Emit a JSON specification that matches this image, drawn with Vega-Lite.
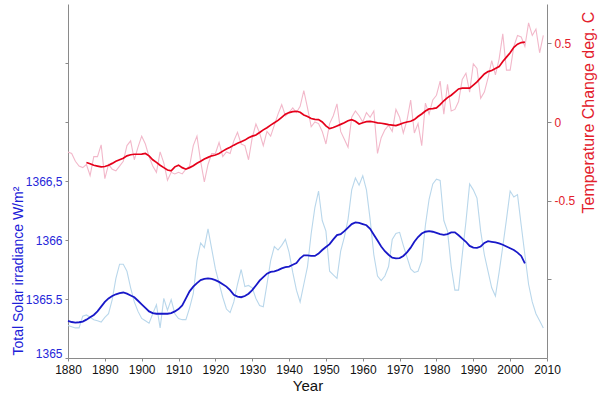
{
"$schema": "https://vega.github.io/schema/vega-lite/v6.json",
"width": 479, "height": 354,
"autosize": "none",
"padding": {"left": 68, "top": 4, "right": 55, "bottom": 39},
"background": "white",
"config": {"view": {"stroke": null}, "axis": {"labelFont": "Liberation Sans", "titleFont": "Liberation Sans", "grid": false, "domainColor": "#8a8a8a", "tickColor": "#8a8a8a", "titleFontWeight": "normal"}},
"data": {"values": [
{"y":1880,"tsi":1365.275,"tsis":1365.315,"t":-0.19,"ts":null},
{"y":1881,"tsi":1365.265,"tsis":1365.305,"t":-0.20,"ts":null},
{"y":1882,"tsi":1365.255,"tsis":1365.300,"t":-0.25,"ts":null},
{"y":1883,"tsi":1365.255,"tsis":1365.303,"t":-0.28,"ts":null},
{"y":1884,"tsi":1365.355,"tsis":1365.308,"t":-0.29,"ts":null},
{"y":1885,"tsi":1365.365,"tsis":1365.325,"t":-0.27,"ts":-0.257},
{"y":1886,"tsi":1365.345,"tsis":1365.345,"t":-0.34,"ts":-0.265},
{"y":1887,"tsi":1365.325,"tsis":1365.365,"t":-0.22,"ts":-0.275},
{"y":1888,"tsi":1365.315,"tsis":1365.395,"t":-0.22,"ts":-0.28},
{"y":1889,"tsi":1365.305,"tsis":1365.435,"t":-0.145,"ts":-0.285},
{"y":1890,"tsi":1365.345,"tsis":1365.475,"t":-0.36,"ts":-0.283},
{"y":1891,"tsi":1365.375,"tsis":1365.505,"t":-0.27,"ts":-0.275},
{"y":1892,"tsi":1365.495,"tsis":1365.525,"t":-0.30,"ts":-0.263},
{"y":1893,"tsi":1365.675,"tsis":1365.540,"t":-0.31,"ts":-0.25},
{"y":1894,"tsi":1365.795,"tsis":1365.550,"t":-0.28,"ts":-0.24},
{"y":1895,"tsi":1365.795,"tsis":1365.555,"t":-0.25,"ts":-0.23},
{"y":1896,"tsi":1365.735,"tsis":1365.545,"t":-0.15,"ts":-0.215},
{"y":1897,"tsi":1365.595,"tsis":1365.530,"t":-0.12,"ts":-0.208},
{"y":1898,"tsi":1365.475,"tsis":1365.515,"t":-0.24,"ts":-0.205},
{"y":1899,"tsi":1365.395,"tsis":1365.485,"t":-0.16,"ts":-0.205},
{"y":1900,"tsi":1365.335,"tsis":1365.455,"t":-0.09,"ts":-0.204},
{"y":1901,"tsi":1365.315,"tsis":1365.425,"t":-0.14,"ts":-0.20},
{"y":1902,"tsi":1365.295,"tsis":1365.395,"t":-0.22,"ts":-0.215},
{"y":1903,"tsi":1365.375,"tsis":1365.380,"t":-0.28,"ts":-0.24},
{"y":1904,"tsi":1365.451,"tsis":1365.375,"t":-0.32,"ts":-0.257},
{"y":1905,"tsi":1365.255,"tsis":1365.375,"t":-0.19,"ts":-0.275},
{"y":1906,"tsi":1365.505,"tsis":1365.375,"t":-0.26,"ts":-0.29},
{"y":1907,"tsi":1365.405,"tsis":1365.375,"t":-0.37,"ts":-0.305},
{"y":1908,"tsi":1365.495,"tsis":1365.380,"t":-0.32,"ts":-0.31},
{"y":1909,"tsi":1365.375,"tsis":1365.395,"t":-0.33,"ts":-0.285},
{"y":1910,"tsi":1365.335,"tsis":1365.415,"t":-0.32,"ts":-0.274},
{"y":1911,"tsi":1365.325,"tsis":1365.445,"t":-0.33,"ts":-0.29},
{"y":1912,"tsi":1365.325,"tsis":1365.505,"t":-0.30,"ts":-0.30},
{"y":1913,"tsi":1365.425,"tsis":1365.565,"t":-0.28,"ts":-0.29},
{"y":1914,"tsi":1365.545,"tsis":1365.605,"t":-0.15,"ts":-0.278},
{"y":1915,"tsi":1365.825,"tsis":1365.635,"t":-0.09,"ts":-0.262},
{"y":1916,"tsi":1365.975,"tsis":1365.660,"t":-0.25,"ts":-0.25},
{"y":1917,"tsi":1365.935,"tsis":1365.670,"t":-0.38,"ts":-0.235},
{"y":1918,"tsi":1366.095,"tsis":1365.675,"t":-0.27,"ts":-0.225},
{"y":1919,"tsi":1365.925,"tsis":1365.670,"t":-0.20,"ts":-0.215},
{"y":1920,"tsi":1365.755,"tsis":1365.660,"t":-0.20,"ts":-0.21},
{"y":1921,"tsi":1365.635,"tsis":1365.645,"t":-0.13,"ts":-0.20},
{"y":1922,"tsi":1365.515,"tsis":1365.625,"t":-0.22,"ts":-0.185},
{"y":1923,"tsi":1365.415,"tsis":1365.605,"t":-0.19,"ts":-0.172},
{"y":1924,"tsi":1365.385,"tsis":1365.575,"t":-0.20,"ts":-0.16},
{"y":1925,"tsi":1365.475,"tsis":1365.535,"t":-0.12,"ts":-0.147},
{"y":1926,"tsi":1365.625,"tsis":1365.520,"t":-0.066,"ts":-0.135},
{"y":1927,"tsi":1365.750,"tsis":1365.515,"t":-0.14,"ts":-0.125},
{"y":1928,"tsi":1365.605,"tsis":1365.525,"t":-0.15,"ts":-0.115},
{"y":1929,"tsi":1365.615,"tsis":1365.545,"t":-0.24,"ts":-0.10},
{"y":1930,"tsi":1365.595,"tsis":1365.575,"t":-0.10,"ts":-0.09},
{"y":1931,"tsi":1365.505,"tsis":1365.615,"t":-0.013,"ts":-0.083},
{"y":1932,"tsi":1365.445,"tsis":1365.655,"t":-0.07,"ts":-0.067},
{"y":1933,"tsi":1365.435,"tsis":1365.685,"t":-0.15,"ts":-0.05},
{"y":1934,"tsi":1365.625,"tsis":1365.715,"t":-0.06,"ts":-0.036},
{"y":1935,"tsi":1365.825,"tsis":1365.730,"t":-0.09,"ts":-0.02},
{"y":1936,"tsi":1365.945,"tsis":1365.735,"t":-0.02,"ts":-0.005},
{"y":1937,"tsi":1365.915,"tsis":1365.745,"t":0.05,"ts":0.01},
{"y":1938,"tsi":1365.955,"tsis":1365.760,"t":0.11,"ts":0.03},
{"y":1939,"tsi":1366.005,"tsis":1365.770,"t":0.04,"ts":0.05},
{"y":1940,"tsi":1365.895,"tsis":1365.775,"t":0.06,"ts":0.06},
{"y":1941,"tsi":1365.725,"tsis":1365.790,"t":0.09,"ts":0.066},
{"y":1942,"tsi":1365.575,"tsis":1365.805,"t":0.06,"ts":0.068},
{"y":1943,"tsi":1365.475,"tsis":1365.845,"t":0.10,"ts":0.062},
{"y":1944,"tsi":1365.625,"tsis":1365.870,"t":0.20,"ts":0.045},
{"y":1945,"tsi":1365.775,"tsis":1365.870,"t":0.09,"ts":0.035},
{"y":1946,"tsi":1366.055,"tsis":1365.865,"t":-0.03,"ts":0.022},
{"y":1947,"tsi":1366.275,"tsis":1365.865,"t":0.00,"ts":0.017},
{"y":1948,"tsi":1366.415,"tsis":1365.885,"t":-0.01,"ts":0.015},
{"y":1949,"tsi":1366.165,"tsis":1365.915,"t":-0.06,"ts":0.00},
{"y":1950,"tsi":1366.075,"tsis":1365.941,"t":-0.14,"ts":-0.025},
{"y":1951,"tsi":1365.735,"tsis":1365.965,"t":-0.01,"ts":-0.042},
{"y":1952,"tsi":1365.705,"tsis":1366.005,"t":0.04,"ts":-0.035},
{"y":1953,"tsi":1365.675,"tsis":1366.041,"t":0.115,"ts":-0.025},
{"y":1954,"tsi":1365.905,"tsis":1366.050,"t":-0.06,"ts":-0.015},
{"y":1955,"tsi":1366.025,"tsis":1366.075,"t":-0.11,"ts":-0.005},
{"y":1956,"tsi":1366.175,"tsis":1366.105,"t":-0.16,"ts":0.008},
{"y":1957,"tsi":1366.425,"tsis":1366.135,"t":0.03,"ts":0.015},
{"y":1958,"tsi":1366.525,"tsis":1366.149,"t":0.07,"ts":0.005},
{"y":1959,"tsi":1366.465,"tsis":1366.145,"t":0.04,"ts":-0.013},
{"y":1960,"tsi":1366.545,"tsis":1366.135,"t":0.00,"ts":-0.005},
{"y":1961,"tsi":1366.425,"tsis":1366.125,"t":0.06,"ts":0.002},
{"y":1962,"tsi":1366.175,"tsis":1366.095,"t":0.03,"ts":0.004},
{"y":1963,"tsi":1365.875,"tsis":1366.045,"t":0.07,"ts":0.00},
{"y":1964,"tsi":1365.695,"tsis":1365.995,"t":-0.20,"ts":-0.006},
{"y":1965,"tsi":1365.655,"tsis":1365.945,"t":-0.10,"ts":-0.008},
{"y":1966,"tsi":1365.695,"tsis":1365.905,"t":-0.05,"ts":-0.012},
{"y":1967,"tsi":1365.775,"tsis":1365.875,"t":-0.02,"ts":-0.017},
{"y":1968,"tsi":1366.005,"tsis":1365.850,"t":-0.06,"ts":-0.02},
{"y":1969,"tsi":1366.055,"tsis":1365.845,"t":0.08,"ts":-0.023},
{"y":1970,"tsi":1366.065,"tsis":1365.847,"t":0.03,"ts":-0.015},
{"y":1971,"tsi":1365.955,"tsis":1365.865,"t":-0.07,"ts":-0.006},
{"y":1972,"tsi":1365.855,"tsis":1365.895,"t":0.01,"ts":0.00},
{"y":1973,"tsi":1365.755,"tsis":1365.935,"t":0.14,"ts":0.005},
{"y":1974,"tsi":1365.725,"tsis":1365.985,"t":-0.07,"ts":0.015},
{"y":1975,"tsi":1365.735,"tsis":1366.025,"t":-0.01,"ts":0.035},
{"y":1976,"tsi":1365.825,"tsis":1366.055,"t":-0.15,"ts":0.051},
{"y":1977,"tsi":1366.125,"tsis":1366.070,"t":0.12,"ts":0.07},
{"y":1978,"tsi":1366.345,"tsis":1366.075,"t":0.05,"ts":0.083},
{"y":1979,"tsi":1366.475,"tsis":1366.070,"t":0.14,"ts":0.085},
{"y":1980,"tsi":1366.515,"tsis":1366.060,"t":0.17,"ts":0.09},
{"y":1981,"tsi":1366.505,"tsis":1366.050,"t":0.26,"ts":0.11},
{"y":1982,"tsi":1366.165,"tsis":1366.043,"t":0.05,"ts":0.135},
{"y":1983,"tsi":1366.075,"tsis":1366.050,"t":0.24,"ts":0.155},
{"y":1984,"tsi":1365.775,"tsis":1366.065,"t":0.07,"ts":0.17},
{"y":1985,"tsi":1365.575,"tsis":1366.065,"t":0.08,"ts":0.19},
{"y":1986,"tsi":1365.575,"tsis":1366.040,"t":0.13,"ts":0.21},
{"y":1987,"tsi":1365.875,"tsis":1366.012,"t":0.27,"ts":0.215},
{"y":1988,"tsi":1366.155,"tsis":1365.985,"t":0.31,"ts":0.215},
{"y":1989,"tsi":1366.475,"tsis":1365.950,"t":0.19,"ts":0.215},
{"y":1990,"tsi":1366.425,"tsis":1365.935,"t":0.37,"ts":0.235},
{"y":1991,"tsi":1366.355,"tsis":1365.933,"t":0.34,"ts":0.255},
{"y":1992,"tsi":1366.075,"tsis":1365.945,"t":0.15,"ts":0.28},
{"y":1993,"tsi":1365.875,"tsis":1365.975,"t":0.19,"ts":0.305},
{"y":1994,"tsi":1365.735,"tsis":1365.990,"t":0.28,"ts":0.32},
{"y":1995,"tsi":1365.595,"tsis":1365.985,"t":0.39,"ts":0.327},
{"y":1996,"tsi":1365.525,"tsis":1365.980,"t":0.30,"ts":0.34},
{"y":1997,"tsi":1365.725,"tsis":1365.972,"t":0.40,"ts":0.352},
{"y":1998,"tsi":1365.945,"tsis":1365.960,"t":0.56,"ts":0.385},
{"y":1999,"tsi":1366.175,"tsis":1365.945,"t":0.33,"ts":0.412},
{"y":2000,"tsi":1366.415,"tsis":1365.930,"t":0.33,"ts":0.44},
{"y":2001,"tsi":1366.365,"tsis":1365.915,"t":0.48,"ts":0.475},
{"y":2002,"tsi":1366.385,"tsis":1365.893,"t":0.55,"ts":0.495},
{"y":2003,"tsi":1366.125,"tsis":1365.865,"t":0.54,"ts":0.505},
{"y":2004,"tsi":1365.875,"tsis":1365.802,"t":0.48,"ts":0.508},
{"y":2005,"tsi":1365.625,"tsis":null,"t":0.63,"ts":null},
{"y":2006,"tsi":1365.475,"tsis":null,"t":0.55,"ts":null},
{"y":2007,"tsi":1365.375,"tsis":null,"t":0.59,"ts":null},
{"y":2008,"tsi":1365.315,"tsis":null,"t":0.44,"ts":null},
{"y":2009,"tsi":1365.255,"tsis":null,"t":0.55,"ts":null}
]},
"encoding": {"x": {"field": "y", "type": "quantitative", "scale": {"domain": [1880, 2010], "nice": false, "zero": false},
  "axis": {"values": [1880,1890,1900,1910,1920,1930,1940,1950,1960,1970,1980,1990,2000,2010], "format": "d", "title": "Year", "labelFontSize": 12, "labelColor": "#111111", "titleColor": "#111111", "titleFontSize": 15, "tickSize": 3, "labelPadding": 3, "titlePadding": 3, "labelFlush": false}}},
"layer": [
 {"layer": [
  {"mark": {"type": "line", "color": "#b9d7eb", "strokeWidth": 1.1},
   "encoding": {"y": {"field": "tsi", "type": "quantitative", "title": "Total Solar irradiance W/m²", "scale": {"domain": [1365, 1368], "nice": false, "zero": false},
     "axis": {"orient": "left", "values": [1365, 1365.5, 1366, 1366.5, 1367, 1367.5], "labelExpr": "datum.value > 1366.6 ? '' : (datum.value == 1366.5 ? '1366,5' : '' + datum.value)", "labelOffset": {"condition": {"test": "datum.value == 1365", "value": -5}, "value": 0}, "labelColor": "#2626d9", "labelFontSize": 12, "tickSize": 3, "labelPadding": 3, "titleColor": "#2020d8", "titleFontSize": 14, "titleAngle": 270, "titleAlign": "left", "titleBaseline": "middle", "titleX": -50, "titleY": 351}}}},
  {"mark": {"type": "line", "color": "#1818c8", "strokeWidth": 1.8},
   "encoding": {"y": {"field": "tsis", "type": "quantitative", "title": "Total Solar irradiance W/m²",
     "axis": {"orient": "left", "values": [1365, 1365.5, 1366, 1366.5, 1367, 1367.5], "labelExpr": "datum.value > 1366.6 ? '' : (datum.value == 1366.5 ? '1366,5' : '' + datum.value)", "labelOffset": {"condition": {"test": "datum.value == 1365", "value": -5}, "value": 0}, "labelColor": "#2626d9", "labelFontSize": 12, "tickSize": 3, "labelPadding": 3, "titleColor": "#2020d8", "titleFontSize": 14, "titleAngle": 270, "titleAlign": "left", "titleBaseline": "middle", "titleX": -50, "titleY": 351}}}}
 ]},
 {"layer": [
  {"mark": {"type": "line", "color": "#f2b8ca", "strokeWidth": 1.1},
   "encoding": {"y": {"field": "t", "type": "quantitative", "title": "Temperature Change deg. C", "scale": {"domain": [-1.5, 0.75], "nice": false, "zero": false},
     "axis": {"orient": "right", "values": [-1, -0.5, 0, 0.5], "labelExpr": "datum.value == -1 ? '' : '' + datum.value", "labelColor": "#e3202c", "labelFontSize": 12, "tickSize": 4, "labelPadding": 3, "titleColor": "#e3202c", "titleFontSize": 16, "titleAngle": 270, "titleAlign": "left", "titleBaseline": "middle", "titleX": 41, "titleY": 209}}}},
  {"mark": {"type": "line", "color": "#e5001a", "strokeWidth": 1.7},
   "encoding": {"y": {"field": "ts", "type": "quantitative", "title": "Temperature Change deg. C",
     "axis": {"orient": "right", "values": [-1, -0.5, 0, 0.5], "labelExpr": "datum.value == -1 ? '' : '' + datum.value", "labelColor": "#e3202c", "labelFontSize": 12, "tickSize": 4, "labelPadding": 3, "titleColor": "#e3202c", "titleFontSize": 16, "titleAngle": 270, "titleAlign": "left", "titleBaseline": "middle", "titleX": 41, "titleY": 209}}}}
 ]}
],
"resolve": {"scale": {"y": "independent"}}
}
